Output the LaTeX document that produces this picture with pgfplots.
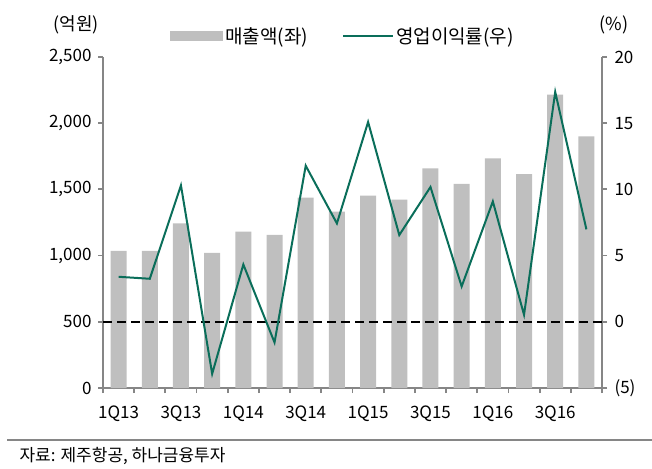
\documentclass[border=0pt]{standalone}
\usepackage{fontspec}
\setmainfont{Noto Sans CJK KR}
\usepackage{pgfplots}
\pgfplotsset{compat=1.18}
\definecolor{bargray}{RGB}{191,191,191}
\definecolor{linegreen}{RGB}{10,110,90}
\definecolor{axisgray}{RGB}{134,134,134}
\newcommand{\lbl}{\fontsize{17bp}{20bp}\selectfont}
\newcommand{\lgd}{\fontsize{19bp}{22bp}\selectfont}

\pgfplotsset{
  base/.style={
    width=499bp, height=331bp, scale only axis,
    at={(103bp,81bp)}, anchor=south west,
    xmin=-0.5, xmax=15.5,
    axis line style={axisgray, line width=2bp, -},
    tick style={axisgray, line width=1.8bp},
    major tick length=5bp,
    tick align=outside,
    tick label style={font=\lbl},
    /pgf/number format/assume math mode=true,
    clip=false,
  }
}

\begin{document}
\begin{tikzpicture}
  \path[use as bounding box] (0,0) rectangle (652bp,469bp);

  % left axis: sales (bars)
  \begin{axis}[base,
      axis x line*=bottom, axis y line*=left,
      ymin=0, ymax=2500, ytick={0,500,...,2500},
      yticklabel style={/pgf/number format/1000 sep={,}, xshift=-3bp},
      xtick={-0.5,0.5,...,15.5}, xticklabels={},
      extra x ticks={0,2,...,14},
      extra x tick labels={1Q13,3Q13,1Q14,3Q14,1Q15,3Q15,1Q16,3Q16},
      extra x tick style={major tick length=0pt, xticklabel style={yshift=-14bp}},
      legend style={at={(0.481,1.063)}, anchor=center, draw=none, fill=none,
        font=\lgd, nodes={inner sep=2bp},
        /tikz/every even column/.append style={column sep=32bp}},
      legend columns=2, legend cell align=left,
    ]
    \addplot[ybar, bar width=16bp, fill=bargray, draw=none,
      legend image code/.code={\fill[bargray] (0bp,-5bp) rectangle (53bp,5bp);}]
      coordinates {
        (0,1035) (1,1035) (2,1244) (3,1020) (4,1181) (5,1156) (6,1438) (7,1332)
        (8,1453) (9,1422) (10,1659) (11,1541) (12,1735) (13,1616) (14,2216) (15,1901)};
    \addlegendentry{매출액(좌)}
    \addlegendimage{legend image code/.code={\draw[linegreen, line width=2bp] (0bp,0bp) -- (50bp,0bp);}}
    \addlegendentry{영업이익률(우)}
  \end{axis}

  % right axis: operating margin (line)
  \begin{axis}[base,
      axis x line=none, axis y line*=right,
      ymin=-5, ymax=20, ytick={-5,0,...,20},
      yticklabels={(5),0,5,10,15,20},
      yticklabel style={xshift=4bp},
    ]
    \addplot[black, line width=1.8bp, dash pattern=on 9bp off 5bp]
      coordinates {(-0.5,0) (15.5,0)};
    \addplot[linegreen, line width=2bp] coordinates {
        (0,3.40) (1,3.25) (2,10.30) (3,-3.93) (4,4.33) (5,-1.56) (6,11.79) (7,7.43)
        (8,15.09) (9,6.55) (10,10.18) (11,2.67) (12,9.09) (13,0.53) (14,17.36) (15,6.98)};
  \end{axis}

  \node[font=\fontsize{18bp}{21bp}\selectfont] at (76bp,444bp) {(억원)};
  \node[font=\fontsize{18bp}{21bp}\selectfont] at (614bp,444bp) {(\%)};
  \draw[axisgray, line width=2bp] (7bp,29bp) -- (652bp,29bp);
  \node[anchor=west, font=\lbl] at (16bp,13bp) {자료: 제주항공, 하나금융투자};
\end{tikzpicture}
\end{document}
